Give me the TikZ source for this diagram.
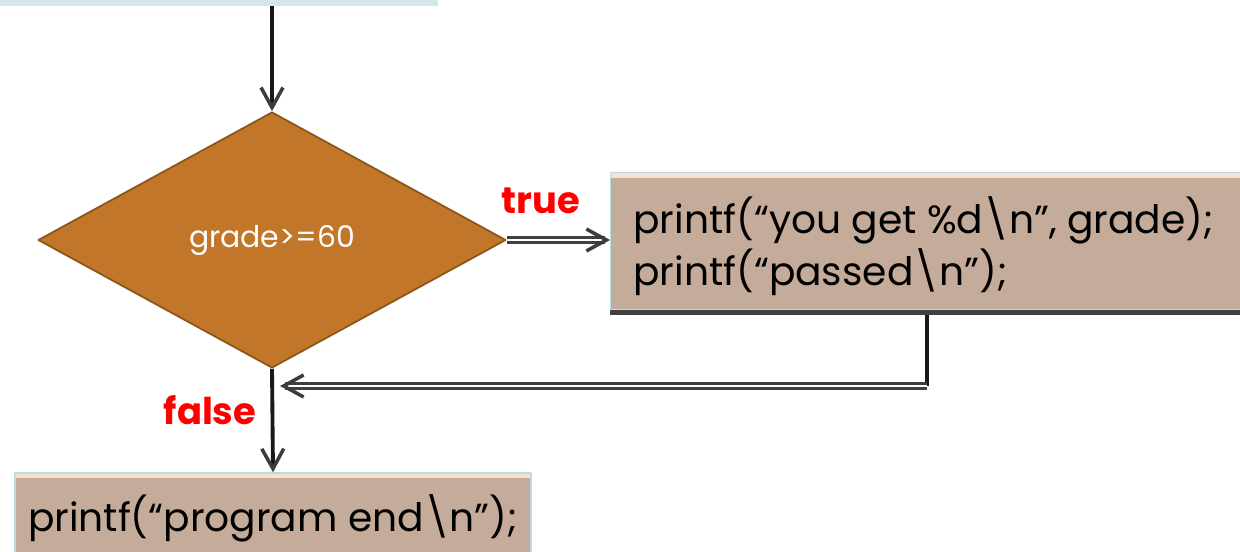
\documentclass[tikz,border=0pt]{standalone}
\usepackage{fontspec}
\setmainfont{Poppins}
\usetikzlibrary{shapes.geometric, arrows.meta, positioning}

\definecolor{boxtan}{RGB}{196,171,154}
\definecolor{boxtop}{RGB}{250,225,205}
\definecolor{boxedge}{RGB}{183,221,226}
\definecolor{boxfoot}{RGB}{64,64,64}
\definecolor{startblue}{RGB}{213,230,236}
\definecolor{condfill}{RGB}{193,118,41}
\definecolor{condedge}{RGB}{140,85,25}
\definecolor{tipgray}{RGB}{60,60,60}

\begin{document}
\begin{tikzpicture}[x=0.02cm, y=-0.02cm, line join=round,
    codebox/.style={draw=boxedge, line width=0.8pt, fill=boxtan, inner sep=0pt,
        path picture={\fill[boxtop] (path picture bounding box.north west)
            rectangle ([yshift=-0.1cm]path picture bounding box.north east);}},
    codetext/.style={inner sep=0pt, font=\fontsize{22.3}{29}\selectfont},
    tip/.style={-{Straight Barb[length=0.4cm, width=0.44cm, line width=2pt, color=tipgray]}},
    flow/.style={draw=black!90, line width=2.2pt, tip},
    dflow/.style={draw=black!75, line width=1.8pt, double=white, double distance=1.2pt, tip},
    answer/.style={text=red, inner sep=0pt, font=\bfseries\fontsize{21}{24}\selectfont}]

    \useasboundingbox (0,0) rectangle (1240,551);

    % top block, only its lower edge is visible
    \node[fill=startblue, minimum width=8.76cm, minimum height=0.24cm, inner sep=0pt]
        (start) at (219,0) {};

    % decision
    \node[diamond, draw=condedge, line width=1pt, fill=condfill, inner sep=0pt,
        minimum width=9.36cm, minimum height=5.12cm, text=white,
        font=\fontsize{17}{20}\selectfont] (cond) at (272,240) {grade>=60};

    % true branch
    \node[codebox, minimum width=13.2cm, minimum height=2.74cm, anchor=west]
        (pass) at (610,241) {};
    \fill[boxfoot] (pass.south west) rectangle ([yshift=-0.1cm]pass.south east);
    \node[codetext, anchor=base west] (passline1) at (633,233)
        {printf(“you get \%d\textbackslash n”, grade);};
    \node[codetext, anchor=base west] (passline2) at (633,285)
        {printf(“passed\textbackslash n”);};

    % after the if
    \node[codebox, minimum width=10.32cm, minimum height=1.88cm] (endbox) at (273,520) {};
    \node[codetext, anchor=base] (endline) at (273,531) {printf(“program end\textbackslash n”);};

    \coordinate (turn) at (927,386);
    \coordinate (join) at (280,386);

    \draw[flow] (start.south -| cond.north) -- (cond.north);
    \draw[dflow] (cond.east) -- (pass.west |- cond.east);
    \draw[draw=black!90, line width=2.2pt] ([yshift=-0.1cm]pass.south -| turn) -- (turn);
    \draw[dflow] (turn) -- (join);
    \draw[flow] (cond.south) -- (endbox.north);

    \node[answer, anchor=base] (truelbl) at (541,213) {true};
    \node[answer, anchor=base] (falselbl) at (210,424) {false};

\end{tikzpicture}
\end{document}
